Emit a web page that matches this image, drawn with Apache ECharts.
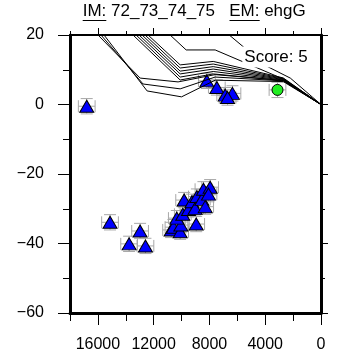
<!DOCTYPE html>
<html><head><meta charset="utf-8">
<script src="https://cdn.jsdelivr.net/npm/echarts@6/dist/echarts.min.js"></script>
<style>html,body{margin:0;padding:0;background:#fff}#c{width:337px;height:359px}</style>
</head><body><div id="c"></div>
<script>
// ---- data ----
const xMajorTicks = [0, 4000, 8000, 12000, 16000];
const xMinorTicks = [2000, 6000, 10000, 14000, 18000];
const yTicks = [-60, -40, -20, 0, 20];

const obsX = [16800, 15130, 12975, 13760, 12590,
  10750, 10580, 10100, 10050, 10340, 9910, 9815, 9505, 9260, 8950, 8900, 9025, 8545, 8430, 8305, 7950, 8070,
  8185, 7470, 6870, 6350, 6700];
const obsY = [-0.5, -33.9, -36.4, -40.1, -40.7,
  -36.1, -35.3, -36.6, -34.7, -32.7, -31.6, -27.5, -30.2, -28.0, -34.4, -26.5, -29.9, -27.3, -24.4, -29.4, -23.8, -25.8,
  6.8, 4.9, 2.7, 3.2, 2.0];
const bestX = [3120];
const bestY = [4.2];
const errX = 600;
const errY = 2.2;

const curveA1 = [[15560,20],[12470,3.9],[10000,2.2],[7590,7.0],[2710,6.6],[0,0]];
const curveA2 = [[15780,20],[12760,5.9],[10100,4.5],[7590,7.9],[2710,6.8],[0,0]];
const curveA3 = [[15990,20],[12970,7.6],[10250,6.5],[7590,8.6],[2710,6.9],[0,0]];
const curveB1 = [[13480,20],[10100,7.05],[7730,8.8],[2710,6.9],[0,0]];
const curveB2 = [[13260,20],[10100,7.9],[7730,9.5],[2710,7.05],[0,0]];
const curveB3 = [[13050,20],[10100,8.8],[7730,10.2],[2710,7.2],[0,0]];
const curveB4 = [[12830,20],[10100,9.6],[7730,10.9],[2710,7.35],[0,0]];
const curveB5 = [[12620,20],[10100,10.5],[7730,11.65],[2710,7.5],[0,0]];
const curveB6 = [[12400,20],[10100,11.4],[7730,12.4],[2710,7.65],[0,0]];
const curveC = [[10820,20],[9670,15.7],[7590,15.7],[2710,7.35],[0,0]];
const curveD = [[6580,20],[3930,11.1],[2200,7.6],[0,0]];
const curves = [curveA1, curveA2, curveA3, curveB1, curveB2, curveB3, curveB4, curveB5, curveB6, curveC, curveD];

// ---- chart ----
const FONT = 'Liberation Sans, Arial, Helvetica, sans-serif';
const chart = echarts.init(document.getElementById('c'), null, {renderer: 'canvas'});
const black = '#000';
function xAxisBase(pos) {
  return {type: 'value', position: pos, min: 0, max: 18000, inverse: true, interval: 4000,
    splitLine: {show: false}, axisPointer: {show: false}};
}
const obsData = obsX.map((x, i) => [x, obsY[i], errX, errY]);
const bestData = bestX.map((x, i) => [x, bestY[i], errX, errY]);

function errRender(params, api) {
  const x = api.value(0), y = api.value(1), ex = api.value(2), ey = api.value(3);
  const l = api.coord([x + ex, y]), r = api.coord([x - ex, y]);
  const t = api.coord([x, y + ey]), b = api.coord([x, y - ey]);
  const cap = 6;
  const st = {stroke: '#a8a8a8', lineWidth: 1};
  const mk = (x1, y1, x2, y2) => ({type: 'line', shape: {x1, y1, x2, y2}, style: st});
  return {type: 'group', children: [
    mk(l[0], l[1], r[0], r[1]),
    mk(l[0], l[1] - cap, l[0], l[1] + cap),
    mk(r[0], r[1] - cap, r[0], r[1] + cap),
    mk(t[0], t[1], b[0], b[1]),
    mk(t[0] - cap, t[1], t[0] + cap, t[1]),
    mk(b[0] - cap, b[1], b[0] + cap, b[1])
  ]};
}

const series = curves.map(c => ({
  type: 'line', data: c, showSymbol: false, symbol: 'none', silent: true,
  lineStyle: {color: black, width: 1}, xAxisIndex: 0, yAxisIndex: 0, animation: false
}));
series.push({type: 'custom', renderItem: errRender, data: obsData.concat(bestData), xAxisIndex: 0, yAxisIndex: 0, animation: false, silent: true});
series.push({type: 'scatter', data: obsData.map(d => [d[0], d[1]]), symbol: 'triangle', symbolSize: [14, 12],
  itemStyle: {color: '#0000ff', borderColor: black, borderWidth: 1, opacity: 1}, animation: false, silent: true});
series.push({type: 'scatter', data: bestData.map(d => [d[0], d[1]]), symbol: 'circle', symbolSize: 11,
  itemStyle: {color: '#22ee22', borderColor: black, borderWidth: 1, opacity: 1}, animation: false, silent: true});

const option = {
  animation: false,
  backgroundColor: '#fff',
  grid: {left: 70, right: 16, top: 35, bottom: 46, containLabel: false},
  xAxis: [
    Object.assign(xAxisBase('bottom'), {
      axisLine: {show: true, onZero: false, lineStyle: {color: black, width: 3}},
      axisTick: {show: true, length: 12, customValues: xMajorTicks, lineStyle: {color: black, width: 1}},
      axisLabel: {show: true, customValues: xMajorTicks, margin: 24, color: black, fontSize: 16, fontFamily: FONT,
        formatter: v => (xMajorTicks.indexOf(v) >= 0 ? String(v) : '')}
    }),
    Object.assign(xAxisBase('bottom'), {
      axisLine: {show: false, onZero: false},
      axisTick: {show: true, length: 8, customValues: xMinorTicks, lineStyle: {color: black, width: 1}},
      axisLabel: {show: false}
    }),
    Object.assign(xAxisBase('top'), {
      axisLine: {show: true, onZero: false, lineStyle: {color: black, width: 2}},
      axisTick: {show: true, length: 7, customValues: xMajorTicks, lineStyle: {color: black, width: 1}},
      axisLabel: {show: false}
    }),
    Object.assign(xAxisBase('top'), {
      axisLine: {show: false, onZero: false},
      axisTick: {show: true, length: 4, customValues: xMinorTicks, lineStyle: {color: black, width: 1}},
      axisLabel: {show: false}
    })
  ],
  yAxis: [
    {type: 'value', position: 'left', min: yTicks[0], max: yTicks[yTicks.length - 1], interval: 20,
      splitLine: {show: false},
      axisLine: {show: true, onZero: false, lineStyle: {color: black, width: 3}},
      axisTick: {show: true, length: 12, lineStyle: {color: black, width: 1}},
      minorTick: {show: true, splitNumber: 2, length: 7, lineStyle: {color: black, width: 1}},
      axisLabel: {margin: 26, color: black, fontSize: 16, fontFamily: FONT,
        formatter: v => String(v).replace('-', '\u2212')}
    },
    {type: 'value', position: 'right', min: yTicks[0], max: yTicks[yTicks.length - 1], interval: 20,
      splitLine: {show: false},
      axisLine: {show: true, onZero: false, lineStyle: {color: black, width: 3}},
      axisTick: {show: true, length: 7, lineStyle: {color: black, width: 1}},
      minorTick: {show: true, splitNumber: 2, length: 4, lineStyle: {color: black, width: 1}},
      axisLabel: {show: false}
    }
  ],
  graphic: [
    {type: 'text', z: 100, x: 82.7, y: 3, style: {text: 'IM: 72_73_74_75   EM: ehgG', font: '17px ' + FONT, fill: black}},
    {type: 'line', z: 100, shape: {x1: 82.7, y1: 20.5, x2: 106.3, y2: 20.5}, style: {stroke: black, lineWidth: 1}},
    {type: 'line', z: 100, shape: {x1: 229.5, y1: 20.5, x2: 259.7, y2: 20.5}, style: {stroke: black, lineWidth: 1}},
    {type: 'text', z: 100, x: 242.3, y: 46.5, style: {text: 'Score: 5', font: '17px ' + FONT, fill: black,
      backgroundColor: '#fff', padding: [2, 3, 2, 2]}}
  ],
  series: series
};
chart.setOption(option);
</script></body></html>
